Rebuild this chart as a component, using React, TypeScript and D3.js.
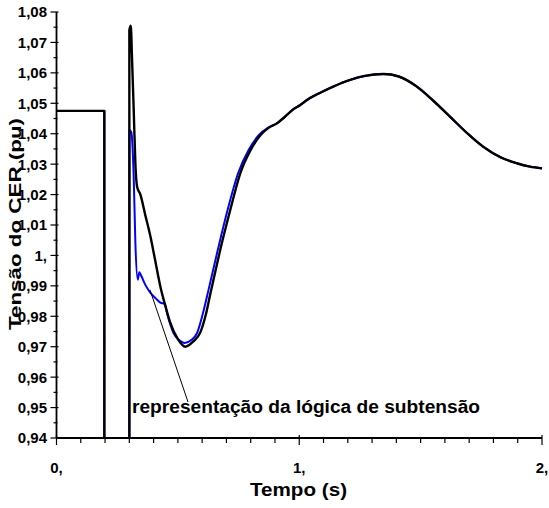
import React from "react";
import * as d3 from "d3";

const blackT = [0, 0.197, 0.1971, 0.3, 0.3001, 0.306, 0.311, 0.318, 0.325, 0.332, 0.346, 0.365, 0.387, 0.405, 0.428, 0.45, 0.469, 0.5, 0.531, 0.56, 0.593, 0.615, 0.634, 0.655, 0.675, 0.716, 0.757, 0.8, 0.84, 0.875, 0.908, 0.94, 0.975, 1.004, 1.032, 1.08, 1.14, 1.21, 1.27, 1.347, 1.41, 1.484, 1.55, 1.621, 1.69, 1.758, 1.83, 1.896, 1.95, 2.0];
const blackV = [1.0475, 1.0475, 0.93, 0.93, 1.074, 1.0755, 1.065, 1.048, 1.03, 1.0226, 1.0199, 1.0135, 1.0062, 0.999, 0.9897, 0.983, 0.9778, 0.9725, 0.97, 0.9715, 0.9748, 0.9805, 0.9875, 0.995, 1.002, 1.015, 1.027, 1.0347, 1.0395, 1.042, 1.0434, 1.0455, 1.048, 1.0494, 1.0511, 1.0532, 1.0555, 1.0577, 1.059, 1.0596, 1.0588, 1.0555, 1.051, 1.0456, 1.0403, 1.0357, 1.0322, 1.0303, 1.0292, 1.0286];

const blueT = [0, 0.197, 0.1971, 0.3005, 0.3006, 0.308, 0.318, 0.325, 0.335, 0.341, 0.348, 0.365, 0.387, 0.41, 0.428, 0.446, 0.455, 0.47, 0.482, 0.505, 0.528, 0.555, 0.579, 0.6, 0.626, 0.665, 0.705, 0.748, 0.792, 0.833, 0.872, 0.908, 0.94, 0.975, 1.004, 1.032, 1.08, 1.14, 1.21, 1.27, 1.347, 1.41, 1.484, 1.55, 1.621, 1.69, 1.758, 1.83, 1.896, 1.95, 2.0];
const blueV = [1.0475, 1.0475, 0.93, 0.93, 1.0412, 1.0405, 1.0259, 1.004, 0.992, 0.9945, 0.9935, 0.9905, 0.9877, 0.9858, 0.9845, 0.984, 0.9811, 0.977, 0.9745, 0.9722, 0.9712, 0.9722, 0.9745, 0.98, 0.9886, 1.002, 1.015, 1.027, 1.0347, 1.0395, 1.042, 1.0434, 1.0455, 1.048, 1.0494, 1.0511, 1.0532, 1.0555, 1.0577, 1.059, 1.0596, 1.0588, 1.0555, 1.051, 1.0456, 1.0403, 1.0357, 1.0322, 1.0303, 1.0292, 1.0286];

const yTicks = [0.94, 0.95, 0.96, 0.97, 0.98, 0.99, 1.0, 1.01, 1.02, 1.03, 1.04, 1.05, 1.06, 1.07, 1.08];
const yTickLabels = ["0,94", "0,95", "0,96", "0,97", "0,98", "0,99", "1,", "1,01", "1,02", "1,03", "1,04", "1,05", "1,06", "1,07", "1,08"];
const xTicks = [0, 1, 2];
const xTickLabels = ["0,", "1,", "2,"];

const xTitle = "Tempo (s)";
const yTitle = "Tensão do CER (pu)";
const annotation = "representação da lógica de subtensão";

const FONT = "'Liberation Sans', Arial, sans-serif";

export default function App() {
  const W = 549, H = 508;
  const x = d3.scaleLinear().domain([0, 2]).range([56.5, 542]);
  const y = d3.scaleLinear().domain([0.94, 1.08]).range([438, 12]);

  const line = d3.line<[number, number]>().x(d => x(d[0])).y(d => y(d[1])).curve(d3.curveMonotoneX);
  const blackPts = blackT.map((t, i) => [t, blackV[i]] as [number, number]);
  const bluePts = blueT.map((t, i) => [t, blueV[i]] as [number, number]);

  const yMinor = d3.range(0, 29).map(i => 0.94 + i * 0.005);
  const xMinor = d3.range(0, 21).map(i => i * 0.1);

  const x0 = x(0);
  const yb = y(0.94);

  return (
    <svg width={W} height={H} style={{ position: "absolute", left: 0, top: 0, background: "#fff" }} fontFamily={FONT}>
      <defs>
        <clipPath id="plot">
          <rect x={x0} y={0} width={x(2) - x0 + 2} height={yb} />
        </clipPath>
      </defs>
      <g clipPath="url(#plot)">
        <path d={line(bluePts) || ""} fill="none" stroke="#0000ff" strokeWidth={2} strokeLinejoin="round" />
        <path d={line(blackPts) || ""} fill="none" stroke="#000" strokeWidth={2.4} strokeLinejoin="round" />
      </g>
      <line x1={x0} x2={x0} y1={y(1.08)} y2={yb} stroke="#000" strokeWidth={1.8} />
      <line x1={x0} x2={x(2)} y1={yb} y2={yb} stroke="#000" strokeWidth={1.8} />
      {yMinor.map((v, i) => (
        <line key={"ym" + i} x1={x0 - (i % 2 === 0 ? 6 : 3)} x2={x0 + (i % 2 === 0 ? 2 : 1)} y1={y(v)} y2={y(v)} stroke="#000" strokeWidth={1.2} />
      ))}
      {xMinor.map((v, i) => (
        <line key={"xm" + i} x1={x(v)} x2={x(v)} y1={yb - (i % 10 === 0 ? 3 : 0)} y2={yb + (i % 10 === 0 ? 7 : 5)} stroke="#000" strokeWidth={1.2} />
      ))}
      {yTicks.map((v, i) => (
        <text key={"yl" + i} x={47} y={y(v)} dy="0.36em" textAnchor="end" fontSize={15} fontWeight="bold">{yTickLabels[i]}</text>
      ))}
      {xTicks.map((v, i) => (
        <text key={"xl" + i} x={x(v)} y={473} textAnchor="middle" fontSize={15} fontWeight="bold">{xTickLabels[i]}</text>
      ))}
      <text x={250} y={496} fontSize={18} fontWeight="bold" textLength={97} lengthAdjust="spacingAndGlyphs">{xTitle}</text>
      <text transform={`translate(21,330) rotate(-90)`} fontSize={16} fontWeight="bold" textLength={212} lengthAdjust="spacingAndGlyphs">{yTitle}</text>
      <line x1={150} y1={290} x2={188} y2={402} stroke="#000" strokeWidth={1} />
      <text x={132} y={413} fontSize={18} fontWeight="bold" textLength={348} lengthAdjust="spacingAndGlyphs">{annotation}</text>
    </svg>
  );
}
